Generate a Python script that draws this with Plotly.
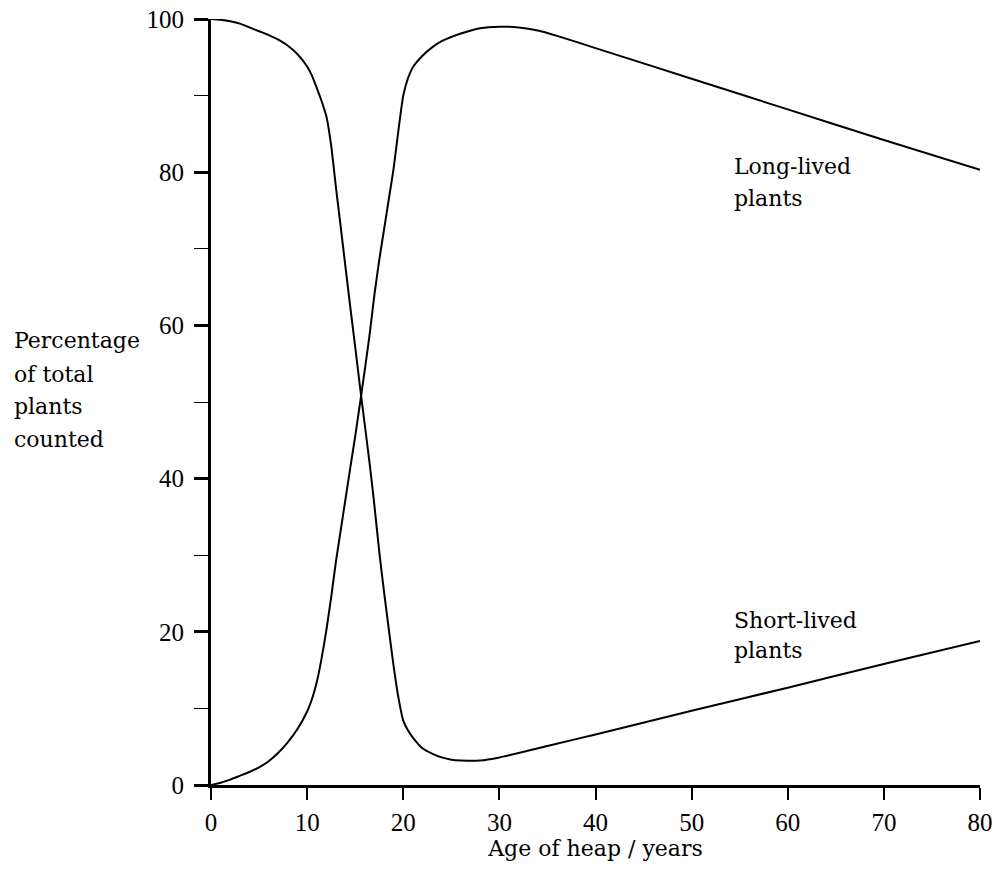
import plotly.graph_objects as go

# ---- data ----
long_x = [0, 1, 2, 3, 4, 5, 6, 7, 8, 9, 10, 10.5, 11, 11.5, 12, 12.5, 13, 13.5, 14, 14.5,
          15, 15.5, 16, 16.5, 17, 17.5, 18, 18.5, 19, 19.5, 20, 20.5, 21, 22, 23, 24, 26,
          28, 30, 32, 34, 36, 40, 50, 60, 70, 80]
long_y = [0, 0.3, 0.7, 1.2, 1.7, 2.3, 3.1, 4.2, 5.6, 7.3, 9.6, 11.2, 13.4, 16.5, 20.2, 24.5,
          29.2, 33.3, 37.4, 41.5, 45.5, 49.8, 54.2, 58.8, 64.0, 68.5, 72.5, 76.5, 80.5, 85.5,
          90.0, 92.3, 93.7, 95.2, 96.3, 97.1, 98.1, 98.8, 99.0, 98.9, 98.5, 97.8, 96.2, 92.2,
          88.2, 84.2, 80.3]

short_x = [0, 1, 2, 3, 4, 5, 6, 7, 8, 9, 10, 10.5, 11, 11.5, 12, 12.5, 13, 13.5, 14, 14.5,
           15, 15.5, 16, 16.5, 17, 17.5, 18, 18.5, 19, 19.5, 20, 20.5, 21, 22, 23, 24, 25,
           26, 28, 30, 35, 40, 50, 60, 70, 80]
short_y = [100, 99.9, 99.7, 99.4, 98.9, 98.4, 97.9, 97.3, 96.5, 95.4, 93.8, 92.6, 91.0, 89.3,
           87.3, 83.5, 78.0, 72.8, 67.5, 62.3, 57.2, 52.0, 47.0, 42.0, 36.5, 30.5, 25.2, 20.3,
           15.5, 11.4, 8.4, 7.1, 6.2, 4.8, 4.1, 3.6, 3.3, 3.2, 3.2, 3.6, 5.1, 6.6, 9.7, 12.7,
           15.8, 18.8]

x_ticks = [0, 10, 20, 30, 40, 50, 60, 70, 80]
y_ticks = [0, 20, 40, 60, 80, 100]

y_label_lines = ["Percentage", "of total", "plants", "counted"]
y_label_pos = [58.0, 53.6, 49.4, 45.1]
long_label_lines = ["Long-lived", "plants"]
long_label_pos = [80.8, 76.6]
short_label_lines = ["Short-lived", "plants"]
short_label_pos = [21.5, 17.5]
label_x = 54.2

TEXT_FONT = dict(family="DejaVu Serif", size=22, color="black")
TICK_FONT = dict(family="Liberation Serif", size=25, color="black")

fig = go.Figure()
fig.add_trace(go.Scatter(x=long_x, y=long_y, mode="lines",
                         line=dict(color="black", width=2, shape="spline", smoothing=0.5),
                         showlegend=False))
fig.add_trace(go.Scatter(x=short_x, y=short_y, mode="lines",
                         line=dict(color="black", width=2, shape="spline", smoothing=0.5),
                         showlegend=False))

anns = []
for t, yv in zip(y_label_lines, y_label_pos):
    anns.append(dict(x=(12 - 211) / 769, xref="paper", y=yv, yref="y", text=t,
                     showarrow=False, xanchor="left", yanchor="middle", font=TEXT_FONT))
for t, yv in zip(long_label_lines, long_label_pos):
    anns.append(dict(x=label_x, xref="x", y=yv, yref="y", text=t,
                     showarrow=False, xanchor="left", yanchor="middle", font=TEXT_FONT))
for t, yv in zip(short_label_lines, short_label_pos):
    anns.append(dict(x=label_x, xref="x", y=yv, yref="y", text=t,
                     showarrow=False, xanchor="left", yanchor="middle", font=TEXT_FONT))

fig.update_layout(
    width=1001, height=872,
    margin=dict(l=211, r=21, t=19, b=87),
    paper_bgcolor="white", plot_bgcolor="white",
    annotations=anns,
    xaxis=dict(range=[0, 80], tickvals=x_ticks, ticks="outside", ticklen=12, tickwidth=2,
               tickcolor="black", showline=True, linecolor="black", linewidth=3,
               showgrid=False, zeroline=False, tickfont=TICK_FONT, ticklabelstandoff=1,
               automargin=False,
               title=dict(text="Age of heap / years", font=TEXT_FONT, standoff=3)),
    yaxis=dict(range=[0, 100], tickvals=y_ticks, ticks="outside", ticklen=14, tickwidth=3,
               tickcolor="black", showline=True, linecolor="black", linewidth=3,
               showgrid=False, zeroline=False, tickfont=TICK_FONT, ticklabelstandoff=5,
               automargin=False,
               minor=dict(dtick=10, ticks="outside", ticklen=14, tickwidth=1,
                          tickcolor="black", showgrid=False)),
)

fig.write_html("out.html")
